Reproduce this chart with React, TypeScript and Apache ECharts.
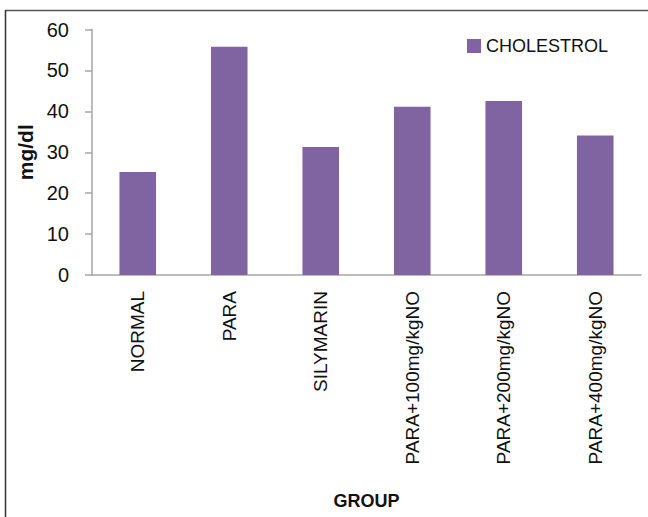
import React, { useEffect, useRef } from "react";
import * as echarts from "echarts";

const groups = [
  "NORMAL",
  "PARA",
  "SILYMARIN",
  "PARA+100mg/kgNO",
  "PARA+200mg/kgNO",
  "PARA+400mg/kgNO",
];
const cholesterol = [25.2, 55.8, 31.3, 41.1, 42.5, 34.1];
const seriesName = "CHOLESTROL";
const yMin = 0;
const yMax = 60;
const yStep = 10;

const FONT = "'Liberation Sans', Arial, sans-serif";

export default function App() {
  const ref = useRef<HTMLDivElement>(null);

  useEffect(() => {
    if (!ref.current) return;
    const chart = echarts.init(ref.current, null, { renderer: "svg" });
    chart.setOption({
      animation: false,
      backgroundColor: "#ffffff",
      grid: { left: 92, right: 7, top: 29.5, bottom: 242, outerBoundsMode: "none" },
      legend: {
        data: [seriesName],
        top: 37,
        left: 467,
        padding: 0,
        itemWidth: 14,
        itemHeight: 14,
        icon: "rect",
        textStyle: { fontFamily: FONT, fontSize: 18, color: "#111" },
      },
      xAxis: {
        type: "category",
        data: groups,
        name: "GROUP",
        nameLocation: "middle",
        nameGap: 217,
        nameTextStyle: { fontFamily: FONT, fontSize: 18, fontWeight: "bold", color: "#111" },
        axisLine: { lineStyle: { color: "#a6a6a6", width: 1.5 } },
        axisTick: { show: false },
        axisLabel: {
          rotate: 90,
          interval: 0,
          margin: 16,
          fontFamily: FONT,
          fontSize: 19,
          color: "#111",
        },
      },
      yAxis: {
        type: "value",
        min: yMin,
        max: yMax,
        interval: yStep,
        name: "mg/dl",
        nameLocation: "middle",
        nameGap: 55,
        nameRotate: 90,
        nameTextStyle: { fontFamily: FONT, fontSize: 21, fontWeight: "bold", color: "#111" },
        axisLine: { show: true, lineStyle: { color: "#a6a6a6", width: 1.5 } },
        axisTick: { show: true, inside: false, length: 7, lineStyle: { color: "#a6a6a6", width: 1.5 } },
        splitLine: { show: false },
        axisLabel: { fontFamily: FONT, fontSize: 20, color: "#111", margin: 23 },
      },
      series: [
        {
          name: seriesName,
          type: "bar",
          data: cholesterol,
          barWidth: "40%",
          itemStyle: { color: "#8064a2" },
        },
      ],
      graphic: [
        {
          type: "line",
          shape: { x1: 5, y1: 10.5, x2: 648, y2: 10.5 },
          style: { stroke: "#555", lineWidth: 1.5 },
        },
        {
          type: "line",
          shape: { x1: 5.5, y1: 10, x2: 5.5, y2: 517 },
          style: { stroke: "#333", lineWidth: 1.5 },
        },
      ],
    });
    return () => chart.dispose();
  }, []);

  return (
    <div
      ref={ref}
      style={{ position: "absolute", left: 0, top: 0, width: 648, height: 517 }}
    />
  );
}
